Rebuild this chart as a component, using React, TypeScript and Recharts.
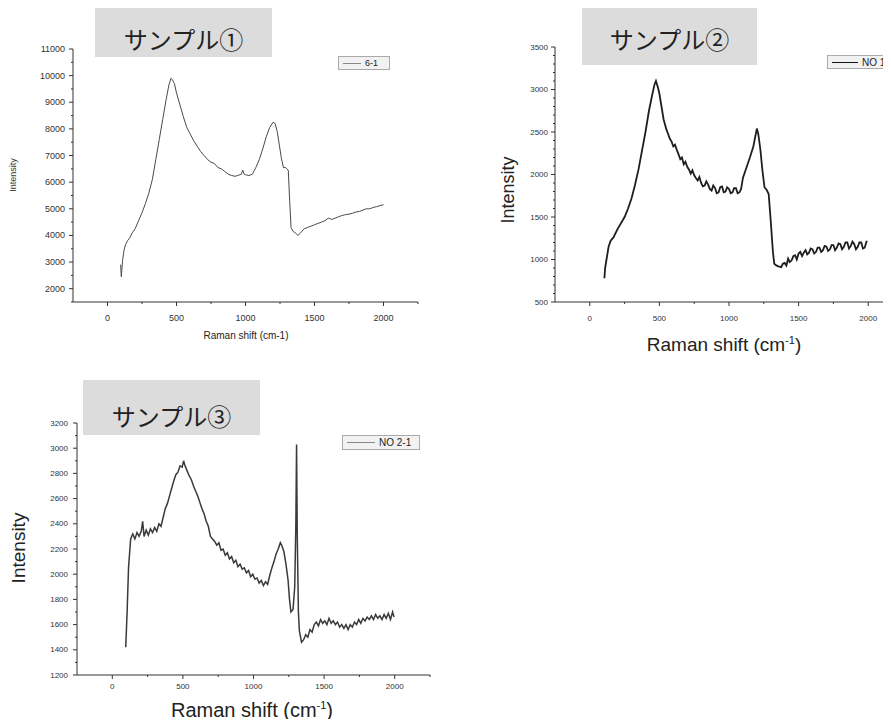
import { LineChart, Line, XAxis, YAxis } from 'recharts';

// sample 1 (6-1)
const s1Shift = [95, 100, 110, 120, 130, 145, 160, 180, 200, 225, 250, 275, 300, 325, 350, 375, 400, 425, 445, 460, 470, 485, 500, 525, 550, 575, 600, 625, 650, 675, 700, 725, 750, 775, 800, 825, 850, 875, 900, 925, 950, 970, 980, 990, 1000, 1025, 1050, 1075, 1100, 1125, 1150, 1175, 1200, 1215, 1230, 1245, 1260, 1275, 1290, 1300, 1310, 1320, 1330, 1345, 1360, 1380, 1400, 1425, 1450, 1475, 1500, 1525, 1550, 1575, 1600, 1625, 1650, 1675, 1700, 1725, 1750, 1775, 1800, 1825, 1850, 1875, 1900, 1925, 1950, 1975, 2000];
const s1Intensity = [2900, 2450, 3100, 3450, 3650, 3800, 3900, 4100, 4250, 4550, 4850, 5200, 5600, 6100, 6850, 7600, 8350, 9100, 9650, 9900, 9850, 9700, 9350, 8900, 8450, 8050, 7800, 7550, 7350, 7150, 7000, 6850, 6750, 6700, 6550, 6500, 6400, 6300, 6250, 6220, 6260, 6300, 6450, 6300, 6280, 6250, 6300, 6550, 6850, 7250, 7700, 8050, 8250, 8200, 7900, 7400, 6900, 6550, 6550, 6500, 6450, 5300, 4300, 4150, 4100, 4000, 4100, 4250, 4300, 4350, 4400, 4450, 4500, 4550, 4650, 4600, 4650, 4700, 4750, 4780, 4800, 4830, 4880, 4900, 4950, 5000, 5000, 5050, 5080, 5120, 5150];

// sample 2 (NO 1)
const s2Shift = [105, 110, 120, 135, 150, 170, 200, 225, 250, 275, 300, 325, 350, 375, 400, 425, 450, 465, 475, 490, 500, 515, 530, 550, 562, 575, 587, 600, 612, 625, 637, 650, 662, 675, 687, 700, 712, 725, 737, 750, 762, 775, 787, 800, 812, 825, 837, 850, 862, 875, 887, 900, 912, 925, 937, 950, 962, 975, 987, 1000, 1012, 1025, 1037, 1050, 1062, 1075, 1087, 1100, 1125, 1150, 1175, 1200, 1210, 1225, 1240, 1255, 1270, 1285, 1300, 1315, 1325, 1340, 1355, 1375, 1387, 1400, 1412, 1425, 1437, 1450, 1462, 1475, 1487, 1500, 1512, 1525, 1537, 1550, 1562, 1575, 1587, 1600, 1612, 1625, 1637, 1650, 1662, 1675, 1687, 1700, 1712, 1725, 1737, 1750, 1762, 1775, 1787, 1800, 1812, 1825, 1837, 1850, 1862, 1875, 1887, 1900, 1912, 1925, 1937, 1950, 1962, 1975, 1990];
const s2Intensity = [780, 900, 1000, 1150, 1220, 1260, 1360, 1430, 1500, 1600, 1720, 1880, 2060, 2280, 2500, 2750, 2950, 3060, 3100, 3020, 2950, 2800, 2650, 2530, 2480, 2420, 2390, 2330, 2350, 2290, 2240, 2180, 2200, 2120, 2150, 2090, 2060, 2010, 2050, 1990, 1960, 1930, 1970, 1900, 1860, 1870, 1920, 1880, 1830, 1810, 1870, 1840, 1780, 1790, 1850, 1860, 1790, 1800, 1850, 1830, 1780, 1790, 1840, 1840, 1780, 1790, 1830, 1960, 2080, 2200, 2330, 2540, 2480, 2300, 2050, 1850, 1820, 1770, 1450, 1100, 950, 930, 920, 910, 950, 960, 930, 1010, 970, 990, 1040, 1050, 1000, 1070, 1090, 1040, 1080, 1110, 1060, 1080, 1130, 1120, 1070, 1090, 1140, 1140, 1090, 1110, 1160, 1150, 1100, 1120, 1170, 1170, 1110, 1140, 1190, 1180, 1120, 1150, 1200, 1200, 1130, 1160, 1210, 1180, 1120, 1150, 1200, 1200, 1130, 1140, 1220];

// sample 3 (NO 2-1)
const s3Shift = [95, 105, 115, 130, 145, 160, 175, 190, 205, 215, 225, 240, 255, 270, 285, 300, 315, 330, 345, 360, 375, 390, 405, 420, 435, 450, 465, 480, 495, 505, 515, 530, 545, 560, 575, 590, 605, 620, 635, 650, 665, 680, 695, 710, 725, 740, 755, 770, 785, 800, 815, 830, 845, 860, 875, 890, 905, 920, 935, 950, 965, 980, 995, 1010, 1025, 1040, 1055, 1070, 1085, 1100, 1115, 1130, 1145, 1160, 1175, 1190, 1200, 1215, 1230, 1245, 1255, 1265, 1280, 1292, 1300, 1305, 1310, 1318, 1325, 1340, 1355, 1370, 1385, 1400, 1415, 1430, 1445, 1460, 1475, 1490, 1505, 1520, 1535, 1550, 1565, 1580, 1595, 1610, 1625, 1640, 1655, 1670, 1685, 1700, 1715, 1730, 1745, 1760, 1775, 1790, 1805, 1820, 1835, 1850, 1865, 1880, 1895, 1910, 1925, 1940, 1955, 1970, 1985, 1995];
const s3Intensity = [1420, 1700, 2050, 2280, 2320, 2280, 2330, 2300, 2340, 2420, 2300, 2350, 2310, 2360, 2330, 2370, 2340, 2400, 2380, 2450, 2520, 2560, 2620, 2680, 2740, 2790, 2810, 2860, 2850, 2900, 2860, 2820, 2780, 2750, 2700, 2660, 2620, 2570, 2520, 2480, 2420, 2380, 2300, 2280, 2260, 2230, 2250, 2190, 2200, 2150, 2170, 2120, 2140, 2090, 2110, 2060, 2080, 2040, 2050, 2010, 2030, 1980, 2000, 1960, 1970, 1930, 1950, 1910, 1940, 1920, 1990, 2050, 2100, 2160, 2200, 2250, 2230, 2180, 2080, 1950, 1800, 1700, 1720, 1900, 2400, 3030, 2300, 1700, 1550, 1460, 1480, 1520, 1500, 1560, 1540, 1600, 1620, 1590, 1640, 1610, 1630, 1600, 1650, 1610, 1630, 1600, 1620, 1580, 1600, 1570, 1600, 1560, 1600, 1580, 1620, 1600, 1640, 1610, 1650, 1630, 1660, 1640, 1670, 1640, 1680, 1650, 1670, 1640, 1680, 1650, 1690, 1640, 1700, 1660];

const xMajor = [0, 500, 1000, 1500, 2000];
const xMinor = [250, 750, 1250, 1750, 2250];

const y1Major = [2000, 3000, 4000, 5000, 6000, 7000, 8000, 9000, 10000, 11000];
const y1Minor = [1500, 2500, 3500, 4500, 5500, 6500, 7500, 8500, 9500, 10500];
const y2Major = [500, 1000, 1500, 2000, 2500, 3000, 3500];
const y2Minor = [600, 700, 800, 900, 1100, 1200, 1300, 1400, 1600, 1700, 1800, 1900, 2100, 2200, 2300, 2400, 2600, 2700, 2800, 2900, 3100, 3200, 3300, 3400];
const y3Major = [1200, 1400, 1600, 1800, 2000, 2200, 2400, 2600, 2800, 3000, 3200];
const y3Minor = [1300, 1500, 1700, 1900, 2100, 2300, 2500, 2700, 2900, 3100];

const toData = (xs: number[], ys: number[]) => xs.map((x, i) => ({ x, y: ys[i] }));

const TICK_FONT = '"Liberation Sans", Arial, sans-serif';
const JP_FONT = '"Noto Sans CJK JP", sans-serif';

const makeXTick = (majors: number[], fontSize: number, dy: number) => (props: any) => {
  const { x, y, payload } = props;
  const major = majors.includes(payload.value);
  return (
    <g>
      <line x1={x} x2={x} y1={y} y2={y + (major ? 4 : 2)} stroke="#333" strokeWidth={1} />
      {major && (
        <text x={x} y={y + dy} textAnchor="middle" dominantBaseline="central" fontSize={fontSize} fontFamily={TICK_FONT} fill="#333">
          {payload.value}
        </text>
      )}
    </g>
  );
};

const makeYTick = (majors: number[], fontSize: number, dx: number) => (props: any) => {
  const { x, y, payload } = props;
  const major = majors.includes(payload.value);
  return (
    <g>
      <line x1={x} x2={x - (major ? 4 : 2)} y1={y} y2={y} stroke="#333" strokeWidth={1} />
      {major && (
        <text x={x - dx} y={y} textAnchor="end" dominantBaseline="central" fontSize={fontSize} fontFamily={TICK_FONT} fill="#333">
          {payload.value}
        </text>
      )}
    </g>
  );
};

function Panel(props: {
  left: number; top: number; width: number; height: number;
  marginTop: number; marginRight: number; yWidth: number; xHeight: number;
  data: { x: number; y: number }[];
  yDomain: [number, number]; yMajor: number[]; yMinor: number[];
  fontSize: number; xDy: number; yDx: number;
  stroke: string; strokeWidth: number;
}) {
  const p = props;
  return (
    <div style={{ position: 'absolute', left: p.left, top: p.top }}>
      <LineChart width={p.width} height={p.height} data={p.data}
        margin={{ top: p.marginTop, right: p.marginRight, bottom: 0, left: 0 }}>
        <XAxis dataKey="x" type="number" domain={[-250, 2250]} allowDataOverflow
          ticks={[...xMajor, ...xMinor]} interval={0} height={p.xHeight}
          tickSize={0} tickMargin={0} tickLine={false} stroke="#333"
          tick={makeXTick(xMajor, p.fontSize, p.xDy)} />
        <YAxis type="number" domain={p.yDomain} allowDataOverflow
          ticks={[...p.yMajor, ...p.yMinor]} interval={0} width={p.yWidth}
          tickSize={0} tickMargin={0} tickLine={false} stroke="#333"
          tick={makeYTick(p.yMajor, p.fontSize, p.yDx)} />
        <Line dataKey="y" type="linear" stroke={p.stroke} strokeWidth={p.strokeWidth}
          dot={false} isAnimationActive={false} />
      </LineChart>
    </div>
  );
}

function TitleBox({ left, top, width, height, text, textTop }: { left: number; top: number; width: number; height: number; text: string; textTop: number }) {
  return (
    <div style={{ position: 'absolute', left, top, width, height, background: '#dcdcdc' }}>
      <div style={{
        position: 'absolute', left: 0, right: 0, top: textTop, textAlign: 'center',
        fontFamily: JP_FONT, fontSize: 24, color: '#222', lineHeight: 1,
      }}>{text}</div>
    </div>
  );
}

function LegendBox({ left, top, width, height, label, stroke, lineW, fontSize }: {
  left: number; top: number; width: number; height: number; label: string; stroke: string; lineW: number; fontSize: number;
}) {
  return (
    <div style={{
      position: 'absolute', left, top, width, height, boxSizing: 'border-box',
      border: '1px solid #aaa', background: '#f2f2f2', display: 'flex', alignItems: 'center',
      fontFamily: TICK_FONT, fontSize, color: '#222', paddingLeft: 4,
    }}>
      <div style={{ width: lineW, height: 0, borderTop: `1px solid ${stroke}`, marginRight: 4 }} />
      <span>{label}</span>
    </div>
  );
}

const abs = (left: number, top: number, extra: any = {}) => ({ position: 'absolute' as const, left, top, ...extra });

export default function App() {
  return (
    <div style={{ position: 'relative', width: 891, height: 727, margin: -8, overflow: 'hidden', background: '#fff' }}>
      {/* sample 1 */}
      <TitleBox left={95} top={7} width={177} height={50} text="サンプル①" textTop={20} />
      <Panel left={0} top={0} width={440} height={350} marginTop={49} marginRight={22} yWidth={73} xHeight={48}
        data={toData(s1Shift, s1Intensity)} yDomain={[1500, 11000]} yMajor={y1Major} yMinor={y1Minor}
        fontSize={9} xDy={16} yDx={8} stroke="#4a4a4a" strokeWidth={1} />
      <LegendBox left={338} top={56} width={52} height={14} label="6-1" stroke="#888" lineW={18} fontSize={9} />
      <div style={abs(13, 175, { transform: 'translate(-50%,-50%) rotate(-90deg)', fontFamily: TICK_FONT, fontSize: 9, color: '#333', whiteSpace: 'nowrap' })}>Intensity</div>
      <div style={abs(246, 335, { transform: 'translate(-50%,-50%)', fontFamily: TICK_FONT, fontSize: 10, color: '#222', whiteSpace: 'nowrap' })}>Raman shift (cm-1)</div>

      {/* sample 2 */}
      <TitleBox left={582} top={5} width={175} height={60} text="サンプル②" textTop={22} />
      <Panel left={470} top={0} width={440} height={350} marginTop={47} marginRight={7} yWidth={85} xHeight={48}
        data={toData(s2Shift, s2Intensity)} yDomain={[500, 3500]} yMajor={y2Major} yMinor={y2Minor}
        fontSize={8} xDy={16} yDx={7} stroke="#1e1e1e" strokeWidth={1.8} />
      <LegendBox left={827} top={55} width={70} height={14} label="NO 1" stroke="#111" lineW={26} fontSize={10} />
      <div style={abs(508, 190, { transform: 'translate(-50%,-50%) rotate(-90deg)', fontFamily: TICK_FONT, fontSize: 18, color: '#222', whiteSpace: 'nowrap' })}>Intensity</div>
      <div style={abs(724, 345, { transform: 'translate(-50%,-50%)', fontFamily: TICK_FONT, fontSize: 19, color: '#222', whiteSpace: 'nowrap' })}>Raman shift (cm<sup style={{ fontSize: 11 }}>-1</sup>)</div>

      {/* sample 3 */}
      <TitleBox left={83} top={380} width={177} height={55} text="サンプル③" textTop={24} />
      <Panel left={0} top={380} width={440} height={350} marginTop={43} marginRight={10} yWidth={77} xHeight={55}
        data={toData(s3Shift, s3Intensity)} yDomain={[1200, 3200]} yMajor={y3Major} yMinor={y3Minor}
        fontSize={8} xDy={11} yDx={9} stroke="#3a3a3a" strokeWidth={1.5} />
      <LegendBox left={342} top={435} width={78} height={15} label="NO 2-1" stroke="#888" lineW={28} fontSize={10} />
      <div style={abs(19, 548, { transform: 'translate(-50%,-50%) rotate(-90deg)', fontFamily: TICK_FONT, fontSize: 19, color: '#222', whiteSpace: 'nowrap' })}>Intensity</div>
      <div style={abs(252, 710, { transform: 'translate(-50%,-50%)', fontFamily: TICK_FONT, fontSize: 20, color: '#222', whiteSpace: 'nowrap' })}>Raman shift (cm<sup style={{ fontSize: 11 }}>-1</sup>)</div>
    </div>
  );
}
